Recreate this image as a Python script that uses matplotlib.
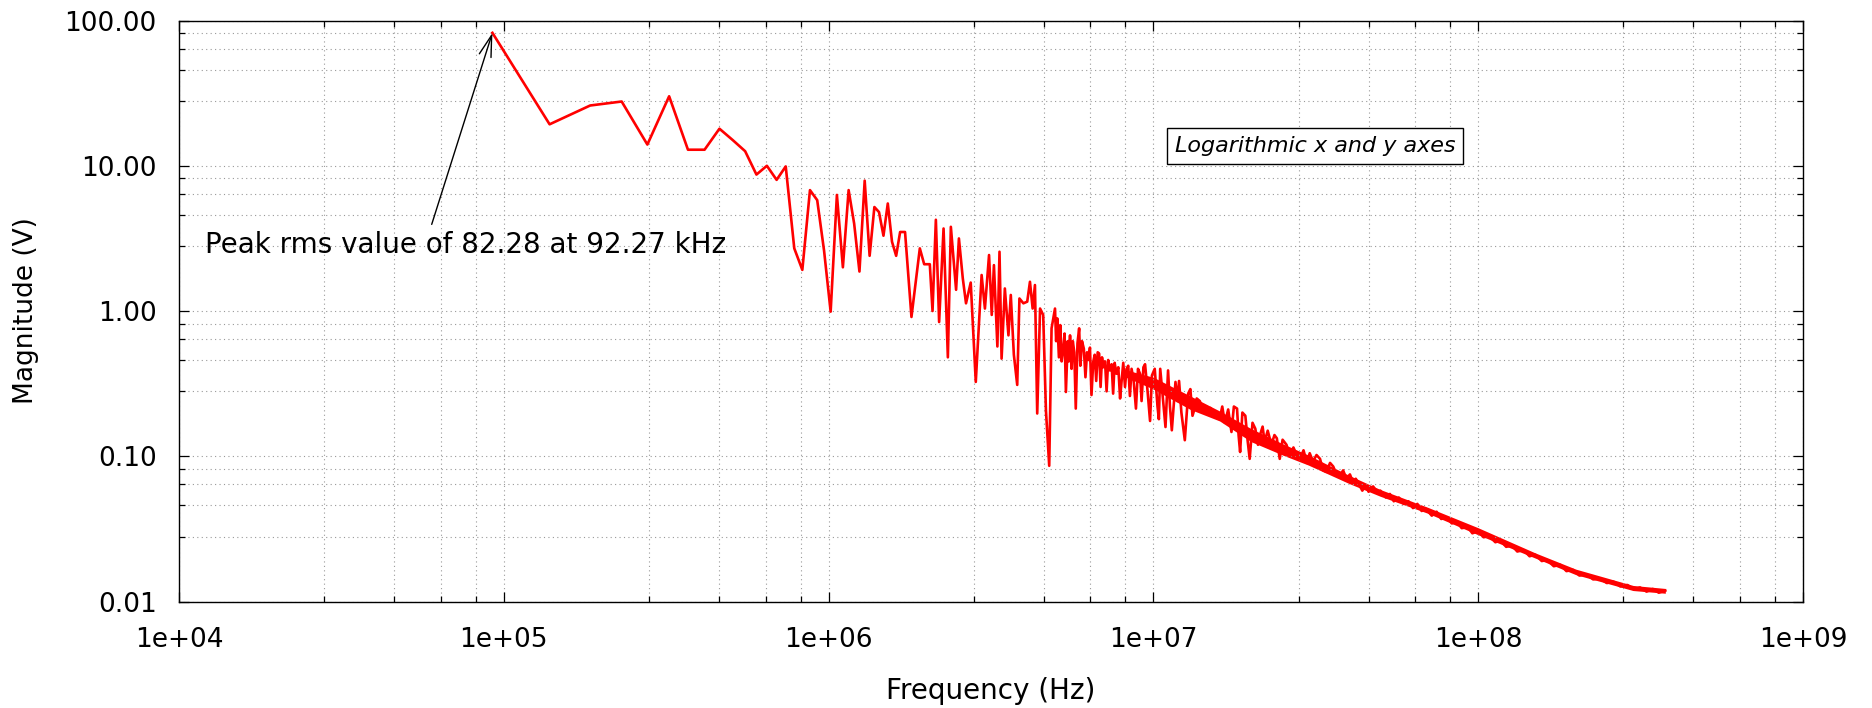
import matplotlib
matplotlib.use("Agg")
import matplotlib.pyplot as plt
from matplotlib.ticker import FixedLocator, NullFormatter
import numpy as np

# spectrum (Hz, V rms)
freq_low = [92.27e3, 138.4e3, 184.5e3, 230.7e3, 276.8e3, 323.0e3, 369.1e3, 415.2e3,
            461.4e3, 507.5e3, 553.6e3, 599.8e3, 645.9e3, 692.0e3, 738.2e3, 784.3e3,
            830.4e3, 876.6e3, 922.7e3, 968.8e3, 1.015e6, 1.061e6, 1.107e6, 1.153e6,
            1.199e6, 1.245e6, 1.292e6, 1.338e6, 1.384e6, 1.430e6, 1.476e6, 1.522e6,
            1.568e6, 1.615e6, 1.661e6]
mag_low = [82.28, 19.3, 26.0, 27.7, 14.0, 30.1, 12.9, 12.9,
           18.0, 15.0, 12.6, 8.7, 10.0, 8.0, 9.9, 2.7,
           1.92, 6.8, 5.8, 2.6, 0.99, 6.3, 2.0, 6.8,
           4.0, 1.87, 7.9, 2.4, 5.2, 4.8, 3.3, 5.5,
           3.0, 2.4, 3.5]

freq_mid = [1.72e6, 1.80e6, 1.91e6, 1.97e6, 2.05e6, 2.09e6, 2.14e6, 2.19e6, 2.26e6,
            2.33e6, 2.38e6, 2.47e6, 2.52e6, 2.59e6, 2.65e6, 2.74e6, 2.84e6, 2.96e6,
            3.03e6, 3.12e6, 3.18e6, 3.23e6, 3.31e6, 3.36e6, 3.41e6, 3.49e6, 3.58e6,
            3.64e6, 3.72e6, 3.81e6, 3.87e6, 3.98e6, 4.09e6, 4.17e6, 4.25e6, 4.32e6,
            4.39e6, 4.48e6, 4.58e6, 4.67e6, 4.78e6, 4.86e6]
mag_mid = [3.5, 0.91, 2.7, 2.1, 2.1, 1.0, 4.25, 0.84, 3.7,
           0.48, 3.8, 1.4, 3.16, 1.68, 1.13, 1.57, 0.325, 1.77,
           1.04, 2.43, 0.94, 2.07, 0.57, 2.56, 0.47, 1.43, 0.68,
           1.29, 0.50, 0.31, 1.22, 1.13, 1.16, 1.59, 1.04, 1.51,
           0.197, 1.04, 0.94, 0.207, 0.086, 0.76]

freq_noise = [4.98e6, 5.02e6, 5.06e6, 5.12e6, 5.17e6, 5.22e6, 5.28e6, 5.33e6, 5.38e6,
              5.45e6, 5.49e6, 5.54e6, 5.60e6, 5.65e6, 5.71e6, 5.77e6, 5.84e6, 5.91e6,
              5.96e6, 6.03e6, 6.11e6, 6.18e6, 6.25e6, 6.32e6, 6.38e6, 6.45e6, 6.53e6,
              6.60e6, 6.67e6, 6.74e6, 6.81e6, 6.88e6, 6.95e6, 7.01e6, 7.10e6, 7.18e6,
              7.26e6, 7.35e6, 7.44e6, 7.52e6, 7.60e6, 7.70e6, 7.80e6, 7.90e6, 7.98e6,
              8.08e6, 8.18e6, 8.27e6, 8.37e6, 8.47e6, 8.57e6, 8.70e6, 8.84e6, 8.97e6,
              9.10e6, 9.20e6, 9.32e6, 9.43e6, 9.60e6, 9.77e6, 9.90e6, 1.01e7, 1.03e7,
              1.04e7, 1.05e7, 1.07e7, 1.09e7, 1.11e7, 1.125e7, 1.14e7, 1.17e7, 1.185e7,
              1.20e7, 1.22e7, 1.25e7, 1.28e7, 1.30e7, 1.32e7, 1.34e7, 1.36e7, 1.39e7,
              1.42e7, 1.46e7, 1.50e7, 1.53e7, 1.57e7, 1.60e7, 1.63e7, 1.66e7, 1.70e7,
              1.74e7, 1.77e7, 1.81e7, 1.83e7, 1.85e7, 1.88e7, 1.92e7, 1.95e7, 1.98e7,
              2.02e7, 2.06e7, 2.10e7, 2.13e7, 2.17e7, 2.20e7, 2.25e7, 2.31e7, 2.36e7,
              2.40e7, 2.45e7, 2.50e7, 2.57e7, 2.63e7, 2.70e7, 2.77e7, 2.83e7, 2.90e7,
              2.97e7, 3.03e7, 3.10e7, 3.18e7, 3.26e7, 3.33e7, 3.41e7, 3.50e7, 3.58e7,
              3.66e7, 3.75e7, 3.84e7, 3.93e7, 4.03e7, 4.12e7, 4.20e7]
mag_noise = [1.04, 0.62, 0.89, 0.48, 0.80, 0.45, 0.55, 0.70, 0.277,
             0.62, 0.45, 0.68, 0.40, 0.62, 0.52, 0.213, 0.60, 0.76,
             0.42, 0.62, 0.55, 0.35, 0.52, 0.46, 0.56, 0.264, 0.447,
             0.50, 0.33, 0.52, 0.51, 0.30, 0.48, 0.41, 0.45, 0.28,
             0.46, 0.39, 0.43, 0.27, 0.44, 0.37, 0.41, 0.25, 0.325,
             0.44, 0.30, 0.40, 0.42, 0.26, 0.40, 0.33, 0.213, 0.40,
             0.37, 0.24, 0.41, 0.43, 0.28, 0.175, 0.36, 0.40, 0.22,
             0.18, 0.40, 0.25, 0.159, 0.39, 0.22, 0.151, 0.325, 0.24,
             0.33, 0.20, 0.129, 0.27, 0.29, 0.19, 0.213, 0.25, 0.24,
             0.21, 0.20, 0.215, 0.197, 0.20, 0.18, 0.22, 0.17, 0.21,
             0.147, 0.22, 0.213, 0.14, 0.107, 0.20, 0.19, 0.13, 0.096,
             0.17, 0.155, 0.12, 0.14, 0.16, 0.126, 0.15, 0.12, 0.14,
             0.133, 0.096, 0.13, 0.12, 0.10, 0.115, 0.10, 0.096, 0.11,
             0.09, 0.105, 0.092, 0.102, 0.096, 0.08, 0.078, 0.09, 0.085,
             0.075, 0.073, 0.08, 0.07, 0.075, 0.066, 0.07]

freq_tail = [4.3e7, 4.4e7, 4.5e7, 4.6e7, 4.75e7, 4.9e7, 5.0e7, 5.2e7, 5.35e7, 5.5e7,
             5.7e7, 5.9e7, 6.1e7, 6.3e7, 6.5e7, 6.7e7, 6.9e7, 7.2e7, 7.45e7, 7.7e7,
             8.0e7, 8.3e7, 8.6e7, 8.9e7, 9.3e7, 9.6e7, 1.0e8, 1.04e8, 1.08e8, 1.13e8,
             1.17e8, 1.22e8, 1.27e8, 1.32e8, 1.38e8, 1.44e8, 1.5e8, 1.57e8, 1.63e8,
             1.71e8, 1.79e8, 1.87e8, 1.96e8, 2.05e8, 2.15e8, 2.26e8, 2.37e8, 2.49e8,
             2.61e8, 2.74e8, 2.88e8, 3.02e8, 3.15e8, 3.3e8, 3.45e8, 3.6e8, 3.77e8]
mag_tail = [0.064, 0.058, 0.063, 0.057, 0.062, 0.056, 0.058, 0.052, 0.055, 0.049,
            0.052, 0.047, 0.049, 0.044, 0.047, 0.042, 0.0435, 0.039, 0.0415, 0.037,
            0.038, 0.0345, 0.0355, 0.032, 0.0325, 0.0295, 0.0305, 0.0277, 0.0283, 0.0256,
            0.0263, 0.0238, 0.0243, 0.0221, 0.0226, 0.0205, 0.021, 0.019, 0.0193,
            0.0175, 0.0179, 0.0162, 0.0165, 0.0151, 0.0154, 0.0142, 0.0144, 0.0134,
            0.0137, 0.0127, 0.013, 0.0121, 0.0125, 0.0117, 0.0122, 0.0115, 0.0119]

# solid core of the dense trace (upper / lower edge)
band_freq = [8e6, 1e7, 1.3e7, 1.6e7, 2e7, 2.5e7, 3e7, 4e7,
             5e7, 7e7, 1e8, 1.5e8, 2e8, 3e8, 3.77e8]
band_hi = [0.40, 0.35, 0.26, 0.205, 0.155, 0.122, 0.102, 0.074,
           0.059, 0.0445, 0.0322, 0.0216, 0.0167, 0.0129, 0.0123]
band_lo = [0.36, 0.29, 0.21, 0.175, 0.126, 0.102, 0.087, 0.065,
           0.053, 0.0405, 0.0288, 0.0199, 0.0153, 0.0119, 0.0114]

freq = np.array(freq_low + freq_mid + freq_noise + freq_tail)
mag = np.array(mag_low + mag_mid + mag_noise + mag_tail)

x_major = [1e4, 1e5, 1e6, 1e7, 1e8, 1e9]
x_labels = ["1e+04", "1e+05", "1e+06", "1e+07", "1e+08", "1e+09"]
y_major = [0.01, 0.1, 1, 10, 100]
y_labels = ["0.01", "0.10", "1.00", "10.00", "100.00"]
minor_steps = [2.8, 4.6, 6.4, 8.2]  # gnuplot "mtics 5" on a log axis

fig = plt.figure(figsize=(18.72, 7.08), dpi=100)
ax = fig.add_axes([0.0956, 0.1504, 0.8675, 0.8206])

ax.fill_between(band_freq, band_lo, band_hi, color="red", lw=0)
ax.plot(freq, mag, color="red", lw=1.9)

ax.set_xscale("log")
ax.set_yscale("log")
ax.set_xlim(1e4, 1e9)
ax.set_ylim(0.01, 100)

ax.xaxis.set_major_locator(FixedLocator(x_major))
ax.set_xticklabels(x_labels)
ax.yaxis.set_major_locator(FixedLocator(y_major))
ax.set_yticklabels(y_labels)
ax.xaxis.set_minor_locator(FixedLocator([s * 10.0**k for k in range(4, 9) for s in minor_steps]))
ax.yaxis.set_minor_locator(FixedLocator([s * 10.0**k for k in range(-2, 2) for s in minor_steps]))
ax.xaxis.set_minor_formatter(NullFormatter())
ax.yaxis.set_minor_formatter(NullFormatter())

ax.tick_params(which="both", direction="in", top=True, right=True, width=0.9)
ax.tick_params(which="major", length=7, labelsize=19)
ax.tick_params(which="minor", length=4)
ax.tick_params(axis="x", which="major", pad=18)
ax.tick_params(axis="y", which="major", pad=16)

ax.grid(which="both", color="0.6", linestyle=(0, (1, 3)), linewidth=0.8)
for s in ax.spines.values():
    s.set_linewidth(1.0)

ax.set_xlabel("Frequency (Hz)", fontsize=20)
ax.set_ylabel("Magnitude (V)", fontsize=19)
ax.xaxis.set_label_coords(0.5, -0.13)
ax.yaxis.set_label_coords(-0.086, 0.5)

ax.annotate("", xy=(92.27e3, 82.28), xytext=(6.0e4, 3.95),
            arrowprops=dict(arrowstyle="->,head_length=0.7,head_width=0.2",
                            color="black", lw=1.0, shrinkA=0, shrinkB=0,
                            mutation_scale=22))
ax.text(1.2e4, 2.84, "Peak rms value of 82.28 at 92.27 kHz", fontsize=20,
        ha="left", va="center")
ax.text(3.15e7, 13.7, "Logarithmic x and y axes", fontsize=16, style="italic",
        ha="center", va="center",
        bbox=dict(boxstyle="square,pad=0.35", fc="white", ec="black", lw=1.0))

fig.savefig("out.png", dpi=100)
